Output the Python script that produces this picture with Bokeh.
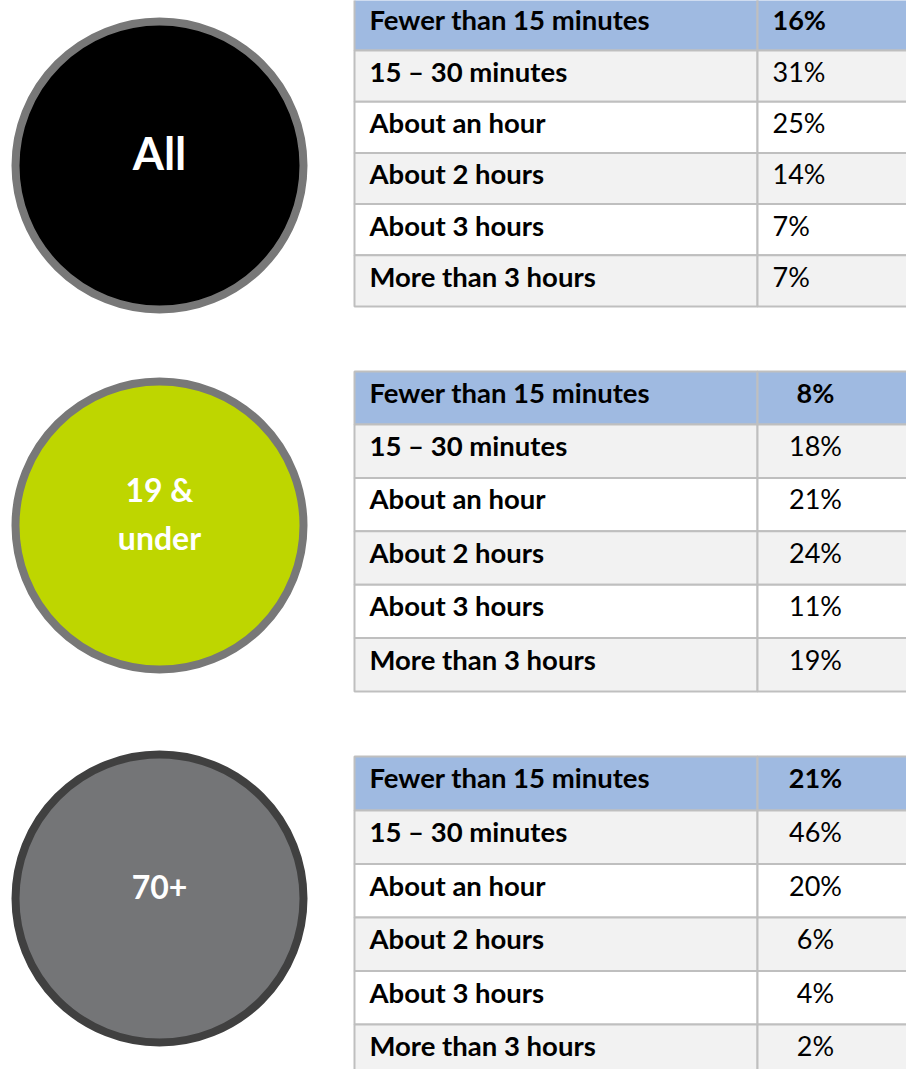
from bokeh.plotting import figure
from bokeh.models import Range1d, ColumnDataSource
from bokeh.embed import file_html
from bokeh.resources import INLINE
from bokeh.core.properties import value

# ---------------- data ----------------
categories = ["Fewer than 15 minutes", "15 – 30 minutes", "About an hour",
              "About 2 hours", "About 3 hours", "More than 3 hours"]
group_labels = [["All"], ["19 &", "under"], ["70+"]]
all_values = [16, 31, 25, 14, 7, 7]
under19_values = [8, 18, 21, 24, 11, 19]
over70_values = [21, 46, 20, 6, 4, 2]
series = [all_values, under19_values, over70_values]

# ---------------- styles ----------------
circle_fill = ["#000000", "#BED600", "#747577"]
circle_line = ["#787878", "#787878", "#404040"]
header_fill = "#9FBAE1"
row_fills = ["#F2F2F2", "#FFFFFF"]
grid_color = "#BFBFBF"
FONT = value("Lato")

W, H = 906, 1069
p = figure(width=W, height=H, x_range=Range1d(0, W), y_range=Range1d(H, 0),
           output_backend="svg", toolbar_location=None, min_border=0)
p.axis.visible = False
p.grid.visible = False
p.outline_line_color = None
p.background_fill_color = "white"
p.border_fill_color = "white"

# layout (pixel geometry)
circle_cx = 159
circle_cy = [165, 525, 898]
circle_r = 144
table_top = [-2, 371, 756]
header_h = [52, 53, 54]
row_h = [51.2, 53.4, 53.5]
table_left, col_div, table_right = 354, 757, 940
label_x = 369
value_align = ["left", "center", "center"]
value_x = [772, 815, 815]
SHIFT = 0.4  # baseline correction (in em)

# circles
p.circle(x=[circle_cx] * 3, y=circle_cy, radius=circle_r,
         fill_color=circle_fill, line_color=circle_line, line_width=8)

# circle labels
label_sizes = [45, 32, 32]
label_base = [[170], [502, 550], [899]]
for g, lines in enumerate(group_labels):
    fs = label_sizes[g]
    p.text(x=[circle_cx] * len(lines), y=[b - SHIFT * fs for b in label_base[g]], text=lines,
           text_font=FONT, text_font_style="bold", text_font_size=f"{fs}px",
           text_color="white", text_align="center", text_baseline="alphabetic")

# tables
fs_lab, fs_val = 27.5, 27
for g, vals in enumerate(series):
    tops, bots, fills = [], [], []
    y = table_top[g]
    for i in range(len(categories)):
        h = header_h[g] if i == 0 else row_h[g]
        tops.append(y)
        bots.append(y + h)
        fills.append(header_fill if i == 0 else row_fills[(i - 1) % 2])
        y += h
    n = len(categories)
    src = ColumnDataSource(dict(top=tops + tops, bottom=bots + bots,
                                left=[table_left] * n + [col_div] * n,
                                right=[col_div] * n + [table_right] * n,
                                fill=fills + fills))
    p.quad(source=src, top="top", bottom="bottom", left="left", right="right",
           fill_color="fill", line_color=grid_color, line_width=2)
    base = [t + 32 - SHIFT * fs_lab for t in tops]
    p.text(x=[label_x] * n, y=base, text=categories, text_font=FONT,
           text_font_style="bold", text_font_size=f"{fs_lab}px", text_color="black",
           text_align="left", text_baseline="alphabetic")
    txt = [f"{v}%" for v in vals]
    p.text(x=[value_x[g]], y=[base[0]], text=[txt[0]], text_font=FONT,
           text_font_style="bold", text_font_size=f"{fs_val}px", text_color="black",
           text_align=value_align[g], text_baseline="alphabetic")
    p.text(x=[value_x[g]] * (n - 1), y=base[1:], text=txt[1:], text_font=FONT,
           text_font_size=f"{fs_val}px", text_color="black",
           text_align=value_align[g], text_baseline="alphabetic")

open("out.html", "w").write(file_html(p, INLINE))
